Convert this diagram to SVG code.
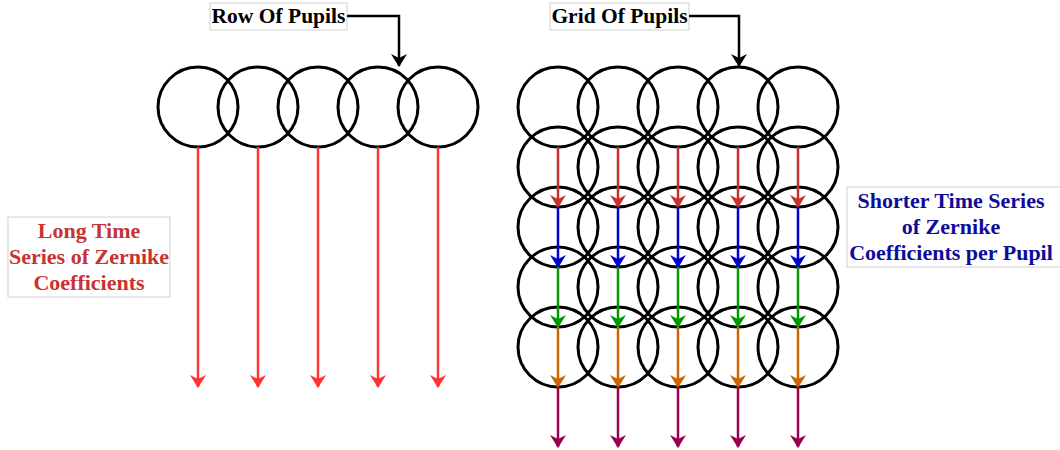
<svg xmlns="http://www.w3.org/2000/svg" width="1060" height="450" viewBox="0 0 1060 450">
<defs>
<style>
.pupil{fill:none;stroke:#000;stroke-width:3}
.lbl{fill:#fff;stroke:#d0d0d0;stroke-width:1}
.t{font-family:"Liberation Serif",serif;font-weight:bold;text-anchor:middle}
.conn{fill:none;stroke-width:2.5}
</style>
<marker id="ab" viewBox="0 0 13 16" refX="12" refY="8" markerWidth="13" markerHeight="16" orient="auto" markerUnits="userSpaceOnUse"><path d="M0,0 L13,8 L0,16 L4,8 Z" fill="#000"/></marker>
<marker id="ar" viewBox="0 0 13 16" refX="12" refY="8" markerWidth="13" markerHeight="16" orient="auto" markerUnits="userSpaceOnUse"><path d="M0,0 L13,8 L0,16 L4,8 Z" fill="#ff3333"/></marker>
<marker id="ad" viewBox="0 0 13 16" refX="12" refY="8" markerWidth="13" markerHeight="16" orient="auto" markerUnits="userSpaceOnUse"><path d="M0,0 L13,8 L0,16 L4,8 Z" fill="#c83232"/></marker>
<marker id="abl" viewBox="0 0 13 16" refX="12" refY="8" markerWidth="13" markerHeight="16" orient="auto" markerUnits="userSpaceOnUse"><path d="M0,0 L13,8 L0,16 L4,8 Z" fill="#0000cc"/></marker>
<marker id="ag" viewBox="0 0 13 16" refX="12" refY="8" markerWidth="13" markerHeight="16" orient="auto" markerUnits="userSpaceOnUse"><path d="M0,0 L13,8 L0,16 L4,8 Z" fill="#009900"/></marker>
<marker id="ao" viewBox="0 0 13 16" refX="12" refY="8" markerWidth="13" markerHeight="16" orient="auto" markerUnits="userSpaceOnUse"><path d="M0,0 L13,8 L0,16 L4,8 Z" fill="#cc6600"/></marker>
<marker id="ap" viewBox="0 0 13 16" refX="12" refY="8" markerWidth="13" markerHeight="16" orient="auto" markerUnits="userSpaceOnUse"><path d="M0,0 L13,8 L0,16 L4,8 Z" fill="#99004d"/></marker>
</defs>
<rect width="1060" height="450" fill="#fff"/>

<g id="row-of-pupils">
<circle class="pupil" cx="198" cy="107" r="40"/>
<circle class="pupil" cx="258" cy="107" r="40"/>
<circle class="pupil" cx="318" cy="107" r="40"/>
<circle class="pupil" cx="378" cy="107" r="40"/>
<circle class="pupil" cx="438" cy="107" r="40"/>
</g>

<g id="grid-of-pupils">
<circle class="pupil" cx="558" cy="107" r="40"/><circle class="pupil" cx="618" cy="107" r="40"/><circle class="pupil" cx="678" cy="107" r="40"/><circle class="pupil" cx="738" cy="107" r="40"/><circle class="pupil" cx="798" cy="107" r="40"/>
<circle class="pupil" cx="558" cy="167" r="40"/><circle class="pupil" cx="618" cy="167" r="40"/><circle class="pupil" cx="678" cy="167" r="40"/><circle class="pupil" cx="738" cy="167" r="40"/><circle class="pupil" cx="798" cy="167" r="40"/>
<circle class="pupil" cx="558" cy="227" r="40"/><circle class="pupil" cx="618" cy="227" r="40"/><circle class="pupil" cx="678" cy="227" r="40"/><circle class="pupil" cx="738" cy="227" r="40"/><circle class="pupil" cx="798" cy="227" r="40"/>
<circle class="pupil" cx="558" cy="287" r="40"/><circle class="pupil" cx="618" cy="287" r="40"/><circle class="pupil" cx="678" cy="287" r="40"/><circle class="pupil" cx="738" cy="287" r="40"/><circle class="pupil" cx="798" cy="287" r="40"/>
<circle class="pupil" cx="558" cy="347" r="40"/><circle class="pupil" cx="618" cy="347" r="40"/><circle class="pupil" cx="678" cy="347" r="40"/><circle class="pupil" cx="738" cy="347" r="40"/><circle class="pupil" cx="798" cy="347" r="40"/>
</g>

<g id="label-row">
<rect class="lbl" x="210" y="3" width="137" height="27"/>
<text class="t" x="278.5" y="23" font-size="21.5" fill="#000">Row Of Pupils</text>
</g>
<g id="label-grid">
<rect class="lbl" x="550" y="3" width="139" height="27"/>
<text class="t" x="619.5" y="23" font-size="21.5" fill="#000">Grid Of Pupils</text>
</g>
<g id="label-long">
<rect class="lbl" x="8" y="217" width="162" height="80"/>
<text class="t" font-size="22" fill="#c83232"><tspan x="89" y="238">Long Time</tspan><tspan x="89" y="264">Series of Zernike</tspan><tspan x="89" y="290">Coefficients</tspan></text>
</g>
<g id="label-short">
<rect class="lbl" x="847" y="187" width="215" height="80"/>
<text class="t" font-size="22" fill="#0d0d99"><tspan x="951" y="208">Shorter Time Series</tspan><tspan x="951" y="234">of Zernike</tspan><tspan x="951" y="260">Coefficients per Pupil</tspan></text>
</g>

<g id="connectors">
<path class="conn" stroke="#000" stroke-width="2" d="M347,16 H399 V66" marker-end="url(#ab)"/>
<path class="conn" stroke="#000" stroke-width="2" d="M689,16 H739 V66" marker-end="url(#ab)"/>
<g stroke="#ff3333" class="conn">
<path d="M198,147 V387" marker-end="url(#ar)"/>
<path d="M258,147 V387" marker-end="url(#ar)"/>
<path d="M318,147 V387" marker-end="url(#ar)"/>
<path d="M378,147 V387" marker-end="url(#ar)"/>
<path d="M438,147 V387" marker-end="url(#ar)"/>
</g>
<g stroke="#c83232" class="conn">
<path d="M558,147 V207" marker-end="url(#ad)"/><path d="M618,147 V207" marker-end="url(#ad)"/><path d="M678,147 V207" marker-end="url(#ad)"/><path d="M738,147 V207" marker-end="url(#ad)"/><path d="M798,147 V207" marker-end="url(#ad)"/>
</g>
<g stroke="#0000cc" class="conn">
<path d="M558,207 V267" marker-end="url(#abl)"/><path d="M618,207 V267" marker-end="url(#abl)"/><path d="M678,207 V267" marker-end="url(#abl)"/><path d="M738,207 V267" marker-end="url(#abl)"/><path d="M798,207 V267" marker-end="url(#abl)"/>
</g>
<g stroke="#009900" class="conn">
<path d="M558,267 V327" marker-end="url(#ag)"/><path d="M618,267 V327" marker-end="url(#ag)"/><path d="M678,267 V327" marker-end="url(#ag)"/><path d="M738,267 V327" marker-end="url(#ag)"/><path d="M798,267 V327" marker-end="url(#ag)"/>
</g>
<g stroke="#cc6600" class="conn">
<path d="M558,327 V387" marker-end="url(#ao)"/><path d="M618,327 V387" marker-end="url(#ao)"/><path d="M678,327 V387" marker-end="url(#ao)"/><path d="M738,327 V387" marker-end="url(#ao)"/><path d="M798,327 V387" marker-end="url(#ao)"/>
</g>
<g stroke="#99004d" class="conn">
<path d="M558,387 V447" marker-end="url(#ap)"/><path d="M618,387 V447" marker-end="url(#ap)"/><path d="M678,387 V447" marker-end="url(#ap)"/><path d="M738,387 V447" marker-end="url(#ap)"/><path d="M798,387 V447" marker-end="url(#ap)"/>
</g>
</g>
</svg>
